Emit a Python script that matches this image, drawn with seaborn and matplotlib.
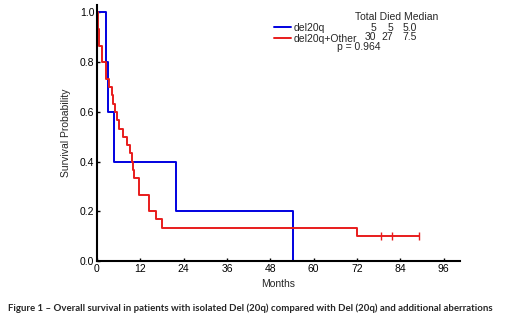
import numpy as np
import pandas as pd
import matplotlib
matplotlib.use("Agg")
import matplotlib.pyplot as plt
import seaborn as sns

# Kaplan-Meier step points (months, survival)
del20q_months = [0, 2.4, 3.1, 4.8, 22.0, 54.3]
del20q_surv = [1.0, 0.8, 0.6, 0.4, 0.2, 0.0]

other_months = [0, 0.2, 0.6, 1.3, 2.4, 3.4, 4.1, 4.5, 5.0, 5.5, 6.2, 7.3, 8.2,
                9.2, 9.6, 9.9, 10.3, 11.5, 14.5, 16.4, 18.0, 72.0, 89.2]
other_surv = [1.0, 0.933, 0.867, 0.8, 0.733, 0.7, 0.667, 0.633, 0.6, 0.567,
              0.533, 0.5, 0.467, 0.433, 0.4, 0.367, 0.333, 0.267, 0.2, 0.167,
              0.133, 0.1, 0.1]
other_censored = [78.6, 81.6, 89.2]
other_censored_surv = [0.1, 0.1, 0.1]

groups = ["del20q", "del20q+Other"]
totals = [5, 30]
died = [5, 27]
medians = ["5.0", "7.5"]
p_value = "0.964"
colors = {"del20q": "#0000e0", "del20q+Other": "#e81c1c"}

df = pd.concat([
    pd.DataFrame({"Months": del20q_months, "Survival": del20q_surv, "group": groups[0]}),
    pd.DataFrame({"Months": other_months, "Survival": other_surv, "group": groups[1]}),
])

sns.set_theme(style="ticks")
plt.rcParams["font.family"] = ["Liberation Sans", "DejaVu Sans"]

W, H = 520, 329
fig = plt.figure(figsize=(W / 100, H / 100), dpi=100)
ax = fig.add_axes([97 / W, 1 - 261 / H, (460 - 97) / W, (261 - 5) / H])

for g in groups:
    sub = df[df["group"] == g]
    sns.lineplot(data=sub, x="Months", y="Survival", ax=ax, color=colors[g],
                 drawstyle="steps-post", estimator=None, sort=False,
                 linewidth=1.4, label=g)

sns.scatterplot(x=other_censored, y=other_censored_surv, ax=ax, marker="|",
                s=30, color=colors["del20q+Other"], linewidth=1.0, zorder=5)

ax.set_xlim(0, 100.5)
ax.set_ylim(0, 1.03)
ax.set_xticks(np.arange(0, 97, 12))
ax.set_yticks(np.arange(0, 1.01, 0.2))
ax.set_yticklabels([f"{v:.1f}" for v in np.arange(0, 1.01, 0.2)])
ax.tick_params(direction="in", length=2, width=1, labelsize=7.5, colors="black", pad=2)
for s in ["left", "bottom"]:
    ax.spines[s].set_linewidth(1.5)
    ax.spines[s].set_color("black")
sns.despine(ax=ax)
ax.set_xlabel("Months", fontsize=7.5, labelpad=4)
ax.set_ylabel("Survival Probability", fontsize=7.5, labelpad=6)

leg = ax.legend(loc="upper left", bbox_to_anchor=(274 / W, 1 - 23 / H),
                bbox_transform=fig.transFigure, frameon=False, fontsize=7.5,
                handlelength=1.6, handletextpad=0.3, labelspacing=0.05,
                borderpad=0, borderaxespad=0)

def px(x, y):
    return x / W, 1 - y / H

fig.text(*px(355, 16.7), "Total Died Median", fontsize=7.5, va="center", ha="left")
rows_y = [27.7, 37.3]
for i in range(2):
    fig.text(*px(376, rows_y[i]), str(totals[i]), fontsize=7.5, va="center", ha="right")
    fig.text(*px(393, rows_y[i]), str(died[i]), fontsize=7.5, va="center", ha="right")
    fig.text(*px(417, rows_y[i]), medians[i], fontsize=7.5, va="center", ha="right")
fig.text(*px(337, 46.7), f"p = {p_value}", fontsize=7.5, va="center", ha="left")

fig.text(*px(8, 308), "Figure 1 \u2013 Overall survival in patients with isolated Del (20q) "
         "compared with Del (20q) and additional aberrations",
         fontsize=6.9, fontweight="bold", family=["Lato", "DejaVu Sans"],
         va="center", ha="left")

fig.savefig("out.png", dpi=100)
